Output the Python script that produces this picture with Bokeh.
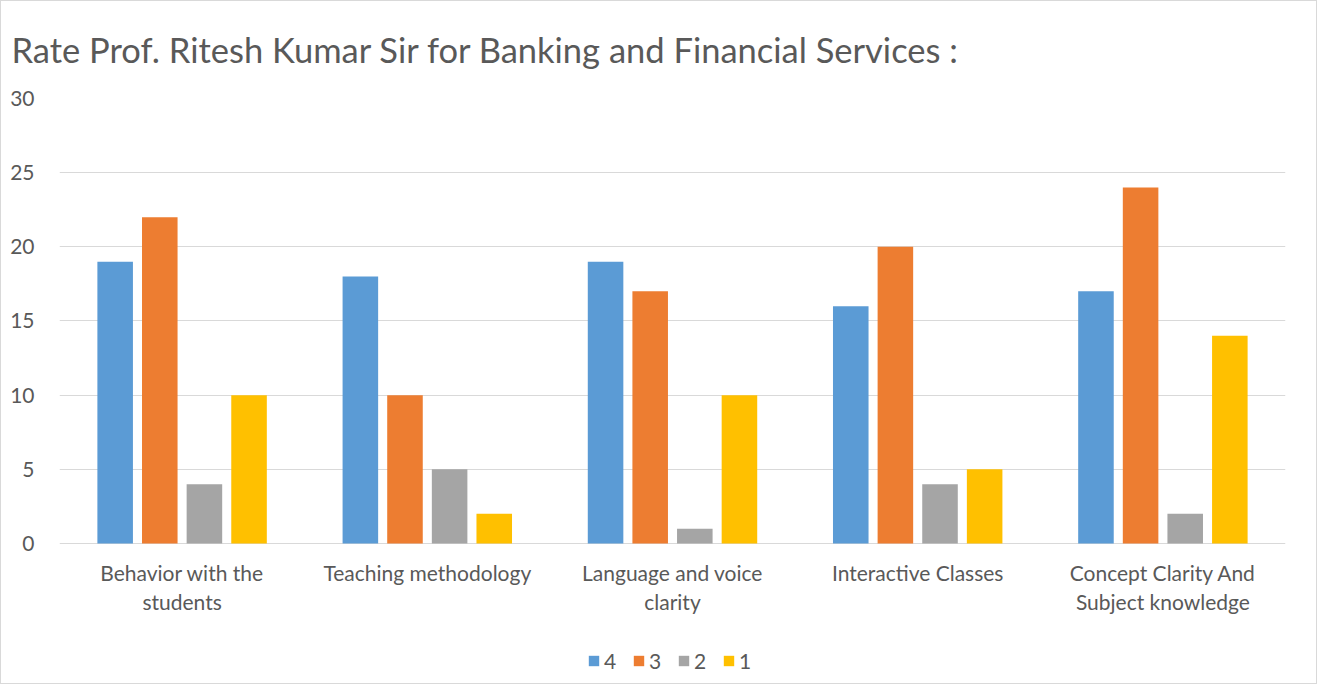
from bokeh.plotting import figure
from bokeh.models import ColumnDataSource, Legend, LegendItem, FixedTicker, Range1d, Title
from bokeh.core.properties import value
from bokeh.transform import dodge
from bokeh.embed import file_html
from bokeh.resources import INLINE

categories = ["Behavior with the\nstudents", "Teaching methodology", "Language and voice\nclarity",
              "Interactive Classes", "Concept Clarity And\nSubject knowledge"]
series_names = ["4", "3", "2", "1"]
r4 = [19, 18, 19, 16, 17]
r3 = [22, 10, 17, 20, 24]
r2 = [4, 5, 1, 4, 2]
r1 = [10, 2, 10, 5, 14]
colors = ["#5B9BD5", "#ED7D31", "#A5A5A5", "#FFC000"]
yticks = [0, 5, 10, 15, 20, 25, 30]

FONT = "Lato"
TXT = "#595959"

ymax = 30
below_units = 8.9  # extra room below zero for category labels and legend

xpos = [i + 0.5 for i in range(len(categories))]
src = ColumnDataSource(dict(x=xpos, r4=r4, r3=r3, r2=r2, r1=r1))
lab_src = ColumnDataSource(dict(x=xpos, y=[-1.1] * len(xpos), t=categories))

p = figure(frame_width=1226, frame_height=577, output_backend="svg", toolbar_location=None,
           x_range=Range1d(0, len(categories)), y_range=Range1d(-below_units, ymax),
           min_border_left=58, min_border_right=31, min_border_top=97, min_border_bottom=8)
t = Title(text="Rate Prof. Ritesh Kumar Sir for Banking and Financial Services :",
          text_font=FONT, text_font_size="34.5px", text_font_style="normal",
          text_color=TXT, align="left", offset=-48, standoff=54, vertical_align="top")
p.add_layout(t, "above")

offsets = [-0.273, -0.091, 0.091, 0.273]
cols = ["r4", "r3", "r2", "r1"]
items = []
for c, off, col, name in zip(cols, offsets, colors, series_names):
    r = p.vbar(x=dodge("x", off), top=c, width=0.145, source=src,
               fill_color=col, line_color=None)
    items.append(LegendItem(label=name, renderers=[r]))

p.text(x="x", y="y", text="t", source=lab_src, text_font=value(FONT), text_font_size="21px",
       text_color=TXT, text_align="center", text_baseline="top", text_line_height=1.15)

p.xaxis.visible = False
p.xgrid.grid_line_color = None
p.ygrid.grid_line_color = "#D9D9D9"
p.ygrid.grid_line_width = 1
p.yaxis.ticker = FixedTicker(ticks=yticks)
p.yaxis.major_tick_line_color = None
p.yaxis.minor_tick_line_color = None
p.yaxis.major_label_text_font = FONT
p.yaxis.major_label_text_color = TXT
p.yaxis.major_label_text_font_size = "21px"
p.yaxis.axis_line_color = None
p.yaxis.major_label_standoff = 19
p.outline_line_color = None

legend = Legend(items=items, orientation="horizontal", location=(528, 2),
                label_text_font=FONT, label_text_font_size="21px", label_text_color=TXT,
                glyph_width=13, glyph_height=13, label_standoff=4, spacing=8,
                border_line_color=None, background_fill_alpha=0, margin=0, padding=0)
p.add_layout(legend, "center")
p.styles = {"border": "1px solid #D9D9D9"}

open("out.html", "w").write(file_html(p, INLINE))
